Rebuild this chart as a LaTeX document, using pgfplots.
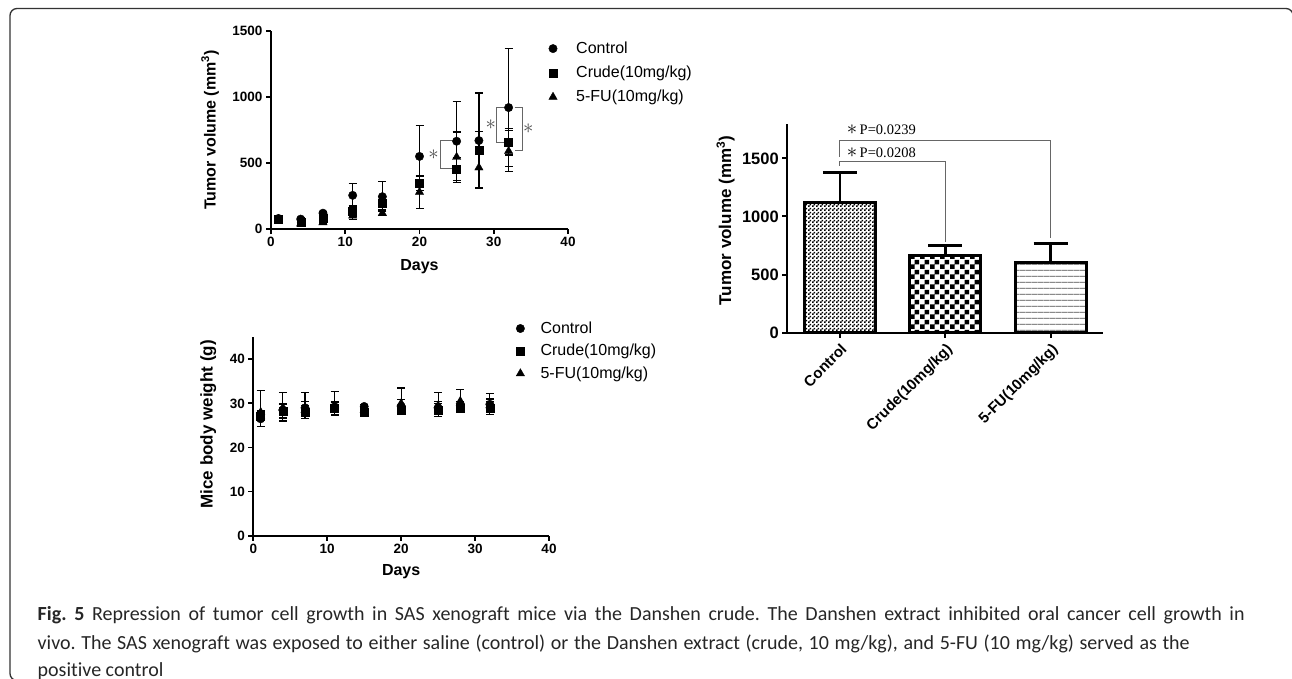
\documentclass[border=0pt]{standalone}
\usepackage{pgfplots}
\pgfplotsset{compat=1.18}
\usepackage{fontspec}
\setmainfont{Liberation Sans}
\newfontfamily\capfont[Ligatures={NoCommon,NoContextual}]{Carlito}
\newfontfamily\seriffont{Liberation Serif}
\usetikzlibrary{patterns}

\pgfdeclarepatternformonly{finecheck}{\pgfpointorigin}{\pgfpoint{4pt}{4pt}}{\pgfpoint{4pt}{4pt}}{%
 \pgfpathrectangle{\pgfpointorigin}{\pgfpoint{2pt}{2pt}}%
 \pgfpathrectangle{\pgfpoint{2pt}{2pt}}{\pgfpoint{2pt}{2pt}}%
 \pgfusepath{fill}}
\pgfdeclarepatternformonly{coarsecheck}{\pgfpointorigin}{\pgfpoint{10pt}{10pt}}{\pgfpoint{10pt}{10pt}}{%
 \pgfpathrectangle{\pgfpointorigin}{\pgfpoint{5pt}{5pt}}%
 \pgfpathrectangle{\pgfpoint{5pt}{5pt}}{\pgfpoint{5pt}{5pt}}%
 \pgfusepath{fill}}
\pgfdeclarepatternformonly{hlines}{\pgfpointorigin}{\pgfpoint{6.3pt}{6.3pt}}{\pgfpoint{6.3pt}{6.3pt}}{%
 \pgfpathrectangle{\pgfpoint{0pt}{2.7pt}}{\pgfpoint{6.3pt}{0.9pt}}%
 \pgfusepath{fill}}

\pgfplotsset{
 prism/.style={
  scale only axis, axis lines=left, axis line style={line width=1.8pt,-},
  tick align=outside, major tick length=5pt, tick style={line width=1.8pt, black},
  clip=false,
  tick label style={font=\bfseries\fontsize{13.5}{14}\selectfont},
  /pgf/number format/assume math mode=true,
  /pgf/number format/1000 sep={},
  label style={font=\bfseries\fontsize{16}{16}\selectfont},
  legend cell align=left,
 },
 ebar/.style={error bars/.cd, y dir=both, y explicit,
   error bar style={line width=1.2pt, black},
   error mark options={rotate=90, mark size=4pt, line width=1.2pt, black}},
 cmark/.style={only marks, mark=*, mark size=4.2pt, black, ebar},
 smark/.style={only marks, mark=square*, mark size=4pt, black, ebar},
 tmark/.style={only marks, mark=triangle*, mark size=4.8pt, black, ebar},
}
\newcommand{\sig}{{\fontsize{20}{20}\selectfont$\ast$}}

\begin{document}
\frenchspacing
\begin{tikzpicture}
\useasboundingbox (0pt,-679pt) rectangle (1292pt,0pt);
\clip (0pt,-679pt) rectangle (1292pt,0pt);
\draw[line width=1.3pt, black!80, rounded corners=7pt] (40pt,-680.5pt) -- (10pt,-680.5pt) -- (10pt,-8.5pt) -- (1293pt,-8.5pt) -- (1293pt,-60pt);

% ---------- Plot 1: tumor volume vs days
\begin{axis}[prism, at={(271pt,-229pt)}, anchor=south west,
  width=297pt, height=198pt,
  xmin=0, xmax=40, ymin=0, ymax=1500,
  xtick={0,10,20,30,40}, ytick={0,500,1000,1500},
  xlabel={Days}, ylabel={Tumor volume (mm\textsuperscript{3})},
  xlabel style={at={(axis description cs:0.5,-0.19)}, anchor=center},
  ylabel style={at={(axis description cs:-0.205,0.5)}, anchor=center},
  legend style={draw=none, fill=none, inner sep=0pt, at={(0.928,0.95)}, anchor=north west,
    row sep=9.2pt, font=\fontsize{16}{16}\selectfont,
    nodes={inner sep=0pt, text height=12pt, text depth=3pt}},
  legend image code/.code={\draw[#1] plot coordinates {(6pt,0pt)}; \path (0pt,0pt) (29pt,0pt);},
]
\addplot[cmark] coordinates {
 (1,80) +- (0,10) (4,75) +- (0,10) (7,120) +- (0,15) (11,255) +- (0,90) (15,245) +- (0,115)
 (20,550) +- (0,235) (25,665) +- (0,300) (28,670) +- (0,360) (32,920) +- (0,445)};
\addlegendentry{Control}
\addplot[smark] coordinates {
 (1,78) +- (0,10) (4,50) +- (0,10) (7,80) +- (0,20) (11,135) +- (0,40) (15,195) +- (0,50)
 (20,345) +- (0,55) (25,455) +- (0,85) (28,595) +- (0,145) (32,660) +- (0,100)};
\addlegendentry{Crude(10mg/kg)}
\addplot[tmark] coordinates {
 (1,75) +- (0,10) (4,40) +- (0,8) (7,50) +- (0,10) (11,100) +- (0,25) (15,120) +- (0,20)
 (20,280) +- (0,125) (25,545) +- (0,190) (28,465) +- (0,160) (32,590) +- (0,155)};
\addlegendentry{5-FU(10mg/kg)}
\draw[black!60, line width=1pt] (axis cs:24.8,669) -- (axis cs:22.85,669) -- (axis cs:22.85,460) -- (axis cs:24.8,460);
\draw[black!60, line width=1pt] (axis cs:31.5,920) -- (axis cs:30.4,920) -- (axis cs:30.4,657) -- (axis cs:31.5,657);
\draw[black!60, line width=1pt] (axis cs:32.8,920) -- (axis cs:33.9,920) -- (axis cs:33.9,598) -- (axis cs:32.8,598);
\node[inner sep=0pt, text=black!70] at (axis cs:21.9,560) {\sig};
\node[inner sep=0pt, text=black!70] at (axis cs:29.6,788) {\sig};
\node[inner sep=0pt, text=black!70] at (axis cs:34.65,763) {\sig};
\end{axis}

% ---------- Plot 2: body weight
\begin{axis}[prism, at={(253.3pt,-535.7pt)}, anchor=south west,
  width=295.7pt, height=198.5pt,
  xmin=0, xmax=40, ymin=0, ymax=45,
  xtick={0,10,20,30,40}, ytick={0,10,20,30,40},
  xlabel={Days}, ylabel={Mice body weight (g)},
  xlabel style={at={(axis description cs:0.5,-0.181)}, anchor=center},
  ylabel style={at={(axis description cs:-0.152,0.561)}, anchor=center, font=\bfseries\fontsize{17}{17}\selectfont},
  legend style={draw=none, fill=none, inner sep=0pt, at={(0.8816,1.0826)}, anchor=north west,
    row sep=7.5pt, font=\fontsize{16}{16}\selectfont,
    nodes={inner sep=0pt, text height=12pt, text depth=3pt}},
  legend image code/.code={\draw[#1] plot coordinates {(6pt,0pt)}; \path (0pt,0pt) (26pt,0pt);},
]
\addplot[cmark] coordinates {
 (1,26.5) += (0,1.8) -= (0,1.8) (4,28.5) += (0,1.5) -= (0,2.5) (7,29) += (0,1.5) -= (0,2.5)
 (11,29.2) += (0,1) -= (0,2) (15,29.3) += (0,0.5) -= (0,0.5)
 (20,29.3) += (0,1.5) -= (0,1.8) (25,29) += (0,1.5) -= (0,2) (28,29.5) += (0,1) -= (0,1.2)
 (32,29.8) += (0,1.2) -= (0,2.3)};
\addlegendentry{Control}
\addplot[smark] coordinates {
 (1,27.2) +- (0,1) (4,28.2) +- (0,1.5) (7,28) +- (0,1.5) (11,29) +- (0,1.5) (15,28) +- (0,0.5)
 (20,28.5) +- (0,1) (25,28.5) +- (0,1.5) (28,29) +- (0,0.7) (32,29) +- (0,1.5)};
\addlegendentry{Crude(10mg/kg)}
\addplot[tmark] coordinates {
 (1,28) += (0,5) -= (0,1.5) (4,29) += (0,3.5) -= (0,1.5) (7,28.5) += (0,4) -= (0,1.5)
 (11,29.5) += (0,3.2) -= (0,1.5) (15,28.5) += (0,0.5) -= (0,0.5)
 (20,30) += (0,3.5) -= (0,1.5) (25,29.5) += (0,3) -= (0,1.5) (28,30.5) += (0,2.6) -= (0,1.5)
 (32,29.5) += (0,2.7) -= (0,1.5)};
\addlegendentry{5-FU(10mg/kg)}
\end{axis}

% ---------- Plot 3: bar chart
\begin{axis}[prism, at={(787.3pt,-332.7pt)}, anchor=south west,
  width=316pt, height=209.2pt,
  xmin=0, xmax=3, ymin=0, ymax=1800,
  axis line style={line width=2pt,-}, tick style={line width=2pt, black},
  xtick={0.5,1.5,2.5}, xticklabels={Control,Crude(10mg/kg),5-FU(10mg/kg)},
  ytick={0,500,1000,1500},
  xticklabel style={rotate=45, anchor=north east, font=\bfseries\fontsize{15}{15}\selectfont},
  yticklabel style={font=\bfseries\fontsize{16.5}{17}\selectfont},
  ylabel={Tumor volume (mm\textsuperscript{3})},
  ylabel style={at={(axis description cs:-0.195,0.536)}, anchor=center, font=\bfseries\fontsize{17}{17}\selectfont},
]
\addplot[ybar, bar width=71pt, bar shift=0pt, draw=black, line width=3pt, pattern=finecheck, pattern color=black,
  error bars/.cd, y dir=plus, y explicit, error bar style={line width=2.8pt, black},
  error mark options={rotate=90, mark size=17pt, line width=2.8pt, black}]
  coordinates {(0.5,1119) +- (0,261)};
\addplot[ybar, bar width=71pt, bar shift=0pt, draw=black, line width=3pt, pattern=coarsecheck,
  error bars/.cd, y dir=plus, y explicit, error bar style={line width=2.8pt, black},
  error mark options={rotate=90, mark size=17pt, line width=2.8pt, black}]
  coordinates {(1.5,663) +- (0,86)};
\addplot[ybar, bar width=71pt, bar shift=0pt, draw=black, line width=3pt, pattern=hlines, pattern color=black!70,
  error bars/.cd, y dir=plus, y explicit, error bar style={line width=2.8pt, black},
  error mark options={rotate=90, mark size=17pt, line width=2.8pt, black}]
  coordinates {(2.5,602) +- (0,167)};
\draw[black!60, line width=1pt] (axis cs:0.5,1515) -- (axis cs:0.5,1658) -- (axis cs:2.5,1658) -- (axis cs:2.5,812);
\draw[black!60, line width=1pt] (axis cs:0.5,1435) -- (axis cs:0.5,1472) -- (axis cs:1.5,1472) -- (axis cs:1.5,783);
\node[anchor=west, inner sep=0pt, font=\seriffont\fontsize{14.5}{14.5}\selectfont] at (axis cs:0.564,1744) {\sig\,P=0.0239};
\node[anchor=west, inner sep=0pt, font=\seriffont\fontsize{14.5}{14.5}\selectfont] at (axis cs:0.564,1549) {\sig\,P=0.0208};
\end{axis}

% ---------- Caption
\node[anchor=base west, inner sep=0pt, font=\capfont\fontsize{20}{20}\selectfont, text=black!85] at (37.5pt,-620.5pt)
 {\makebox[1207pt][s]{\textbf{Fig. 5} Repression of tumor cell growth in SAS xenograft mice via the Danshen crude. The Danshen extract inhibited oral cancer cell growth in}};
\node[anchor=base west, inner sep=0pt, font=\capfont\fontsize{20}{20}\selectfont, text=black!85] at (37.5pt,-649pt)
 {\makebox[1152pt][s]{vivo. The SAS xenograft was exposed to either saline (control) or the Danshen extract (crude, 10 mg/kg), and 5-FU (10 mg/kg) served as the}};
\node[anchor=base west, inner sep=0pt, font=\capfont\fontsize{20}{20}\selectfont, text=black!85] at (37.5pt,-676.5pt)
 {positive control};
\end{tikzpicture}
\end{document}
